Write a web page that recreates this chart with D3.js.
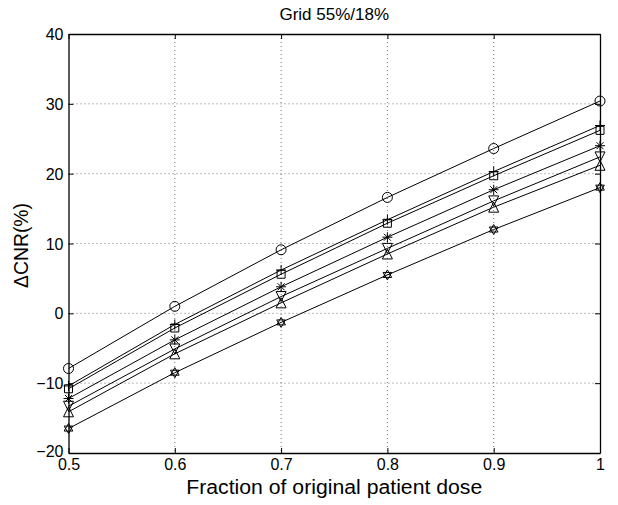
<!DOCTYPE html>
<html lang="en">
<head>
  <meta charset="utf-8">
  <script src="https://d3js.org/d3.v7.min.js"></script>
  <style>
    body, html {
      margin: 0;
      padding: 0;
      background: #fff;
    }
    svg text {
      font-family: "Liberation Sans", Arial, sans-serif;
      fill: #000;
    }
    .grid line {
      stroke: #777;
      stroke-width: 1px;
      stroke-dasharray: 1, 3;
    }
    .line {
      fill: none;
      stroke: #000;
      stroke-width: 1px;
    }
    .marker {
      fill: none;
      stroke: #000;
      stroke-width: 1px;
    }
  </style>
</head>
<body>
<svg id="chart" width="618" height="505"></svg>

<script>
  // dose fractions on the x axis
  var doses = [0.5, 0.6, 0.7, 0.8, 0.9, 1.0];

  // one array per curve, named after its marker
  var circleVals   = [-7.9,  1.0,  9.1, 16.6, 23.6, 30.4];
  var plusVals     = [-10.4, -1.6, 6.2, 13.4, 20.3, 26.9];
  var squareVals   = [-10.8, -2.1, 5.6, 12.9, 19.7, 26.2];
  var starVals     = [-12.2, -3.8, 3.8, 10.9, 17.7, 24.0];
  var triDownVals  = [-13.3, -5.1, 2.4,  9.3, 16.1, 22.4];
  var triUpVals    = [-14.1, -5.8, 1.5,  8.5, 15.2, 21.2];
  var hexVals      = [-16.5, -8.5, -1.3, 5.5, 12.0, 18.0];

  var xTicks = [0.5, 0.6, 0.7, 0.8, 0.9, 1];
  var yTicks = [-20, -10, 0, 10, 20, 30, 40];

  var series = [
    {marker: "circle",  values: circleVals},
    {marker: "plus",    values: plusVals},
    {marker: "square",  values: squareVals},
    {marker: "star",    values: starVals},
    {marker: "tridown", values: triDownVals},
    {marker: "triup",   values: triUpVals},
    {marker: "hexagram", values: hexVals}
  ];

  var margin = {top: 34, right: 18, bottom: 52, left: 68.5},
      width = 600 - margin.left,
      height = 453 - margin.top;

  var svg = d3.select("#chart");
  var g = svg.append("g")
      .attr("transform", "translate(" + margin.left + "," + margin.top + ")");

  var x = d3.scaleLinear().domain([0.5, 1]).range([0, width]);
  var y = d3.scaleLinear().domain([-20, 40]).range([height, 0]);

  // dotted grid
  var grid = g.append("g").attr("class", "grid");
  grid.selectAll(".vg")
      .data(xTicks.slice(1, -1))
      .enter().append("line")
      .attr("x1", function(d) { return x(d); })
      .attr("x2", function(d) { return x(d); })
      .attr("y1", 0).attr("y2", height);
  grid.selectAll(".hg")
      .data(yTicks.slice(1, -1))
      .enter().append("line")
      .attr("y1", function(d) { return y(d); })
      .attr("y2", function(d) { return y(d); })
      .attr("x1", 0).attr("x2", width);

  // axes, MATLAB style: inward ticks on all four sides
  var fmtY = function(d) { return d < 0 ? "\u2212" + Math.abs(d) : d; };

  var xAxis = g.append("g")
      .attr("transform", "translate(0," + height + ")")
      .call(d3.axisBottom(x).tickValues(xTicks).tickSizeInner(-5).tickSizeOuter(0)
        .tickPadding(8).tickFormat(function(d) { return d === 1 ? "1" : d3.format(".1f")(d); }));
  var xTop = g.append("g")
      .call(d3.axisTop(x).tickValues(xTicks).tickSizeInner(-5).tickSizeOuter(0).tickFormat(""));
  var yAxis = g.append("g")
      .call(d3.axisLeft(y).tickValues(yTicks).tickSizeInner(-5).tickSizeOuter(0)
        .tickPadding(5).tickFormat(fmtY));
  var yRight = g.append("g")
      .attr("transform", "translate(" + width + ",0)")
      .call(d3.axisRight(y).tickValues(yTicks).tickSizeInner(-5).tickSizeOuter(0).tickFormat(""));

  [xAxis, xTop, yAxis, yRight].forEach(function(a) {
    a.select(".domain").attr("stroke", "#000").attr("stroke-width", 1.3);
    a.selectAll(".tick line").attr("stroke", "#000");
    a.selectAll("text").style("font-size", "16px").attr("fill", "#000")
      .style("font-family", "'Liberation Sans', Arial, sans-serif");
  });
  xAxis.selectAll("text").attr("dy", "0.55em");
  yAxis.selectAll("text").attr("dy", function(d) { return d === -20 ? "0.2em" : "0.35em"; });

  // lines
  var line = d3.line()
      .x(function(d, i) { return x(doses[i]); })
      .y(function(d) { return y(d); });

  g.selectAll(".line")
      .data(series)
      .enter().append("path")
      .attr("class", "line")
      .attr("d", function(d) { return line(d.values); });

  // marker shapes, size in px
  var s = 5;
  function markerPath(type) {
    var p = d3.path();
    if (type === "circle") {
      p.moveTo(s, 0); p.arc(0, 0, s, 0, 2 * Math.PI);
    } else if (type === "square") {
      p.rect(-4, -4, 8, 8);
    } else if (type === "plus") {
      p.moveTo(-s, 0); p.lineTo(s, 0);
      p.moveTo(0, -s); p.lineTo(0, s);
    } else if (type === "star") {
      p.moveTo(-s, 0); p.lineTo(s, 0);
      p.moveTo(0, -s); p.lineTo(0, s);
      var k = s * 0.7;
      p.moveTo(-k, -k); p.lineTo(k, k);
      p.moveTo(-k, k); p.lineTo(k, -k);
    } else if (type === "tridown") {
      p.moveTo(-s, -s); p.lineTo(s, -s); p.lineTo(0, s); p.closePath();
    } else if (type === "triup") {
      p.moveTo(-s, s); p.lineTo(s, s); p.lineTo(0, -s); p.closePath();
    } else if (type === "hexagram") {
      var r = 5;
      for (var t = 0; t < 2; t++) {
        for (var j = 0; j < 3; j++) {
          var a = -Math.PI / 2 + t * Math.PI + j * 2 * Math.PI / 3;
          if (j === 0) p.moveTo(r * Math.cos(a), r * Math.sin(a));
          else p.lineTo(r * Math.cos(a), r * Math.sin(a));
        }
        p.closePath();
      }
    }
    return p.toString();
  }

  series.forEach(function(sr) {
    g.selectAll(null)
      .data(sr.values)
      .enter().append("path")
      .attr("class", "marker")
      .attr("transform", function(d, i) {
        return "translate(" + x(doses[i]) + "," + y(d) + ")";
      })
      .attr("d", markerPath(sr.marker));
  });

  // title and labels
  svg.append("text")
      .attr("x", margin.left + width / 2)
      .attr("y", 20)
      .attr("text-anchor", "middle")
      .style("font-size", "17px")
      .text("Grid 55%/18%");

  svg.append("text")
      .attr("x", margin.left + width / 2)
      .attr("y", 494)
      .attr("text-anchor", "middle")
      .style("font-size", "20px")
      .attr("textLength", 296)
      .attr("lengthAdjust", "spacingAndGlyphs")
      .text("Fraction of original patient dose");

  svg.append("text")
      .attr("transform", "translate(28," + (margin.top + height / 2 + 2) + ") rotate(-90)")
      .attr("text-anchor", "middle")
      .style("font-size", "20px")
      .attr("textLength", 85)
      .attr("lengthAdjust", "spacingAndGlyphs")
      .text("\u0394CNR(%)");
</script>
</body>
</html>
